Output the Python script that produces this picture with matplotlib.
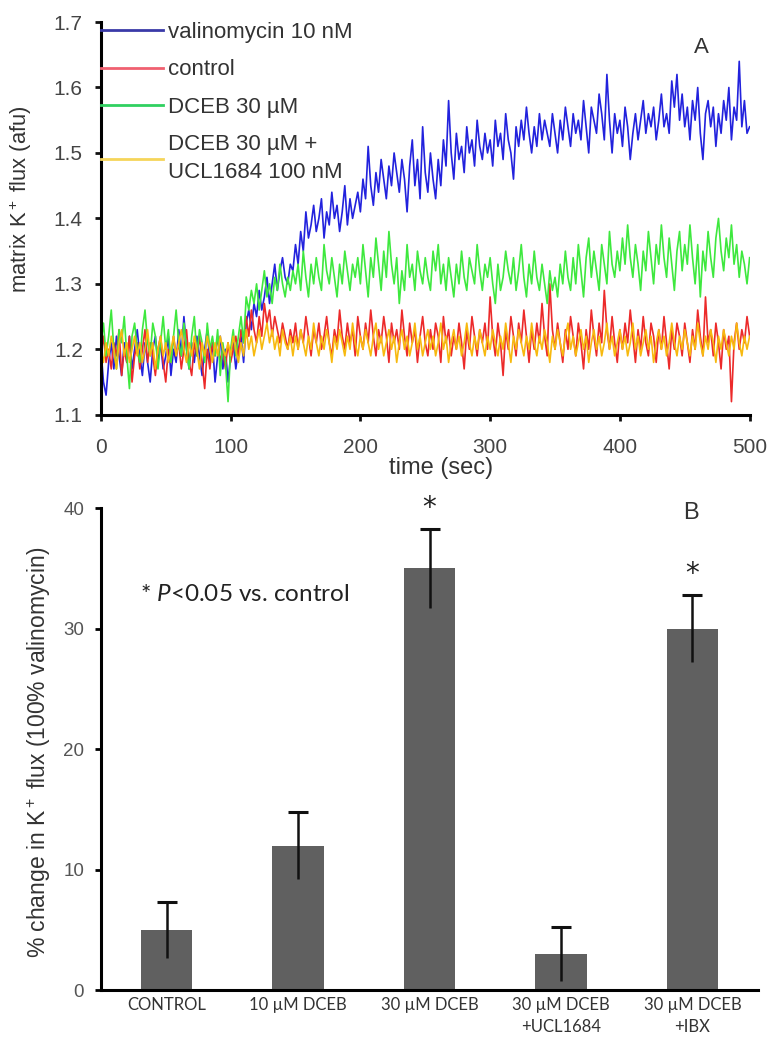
import numpy as np
import matplotlib
matplotlib.use("Agg")
import matplotlib.pyplot as plt
from matplotlib.lines import Line2D

plt.rcParams['font.family'] = ['Liberation Sans', 'DejaVu Sans']
plt.rcParams['mathtext.default'] = 'regular'
plt.rcParams['mathtext.fontset'] = 'custom'
plt.rcParams['mathtext.it'] = 'Lato:italic'
plt.rcParams['mathtext.rm'] = 'Lato'

# ---------------- Panel A data (sampled every 2 s, 0..500 s) ----------------
valinomycin = [
    1.20,1.15,1.13,1.18,1.21,1.17,1.22,1.19,1.16,1.21,1.18,1.22,1.17,1.20,1.23,1.19,1.16,1.21,1.18,1.15,1.20,1.22,1.18,1.21,1.17,
    1.19,1.22,1.16,1.20,1.18,1.23,1.19,1.25,1.20,1.17,1.21,1.18,1.22,1.19,1.16,1.20,1.23,1.18,1.21,1.15,1.19,1.22,1.17,1.20,1.15,
    1.19,1.21,1.17,1.20,1.22,1.18,1.24,1.26,1.23,1.27,1.25,1.29,1.26,1.28,1.31,1.27,1.30,1.33,1.29,1.32,1.34,1.31,1.30,1.33,1.32,
    1.36,1.33,1.38,1.35,1.41,1.37,1.39,1.42,1.38,1.40,1.43,1.37,1.41,1.39,1.44,1.40,1.42,1.38,1.41,1.45,1.39,1.43,1.40,1.42,1.44,
    1.41,1.46,1.43,1.51,1.45,1.42,1.47,1.44,1.49,1.46,1.43,1.48,1.45,1.50,1.47,1.44,1.49,1.46,1.41,1.48,1.52,1.45,1.49,1.43,1.54,
    1.47,1.44,1.50,1.46,1.43,1.49,1.45,1.52,1.48,1.58,1.50,1.46,1.53,1.49,1.51,1.47,1.54,1.50,1.52,1.48,1.55,1.51,1.49,1.53,1.50,
    1.52,1.48,1.55,1.51,1.53,1.49,1.56,1.52,1.50,1.46,1.54,1.51,1.55,1.52,1.57,1.53,1.50,1.54,1.51,1.56,1.52,1.55,1.53,1.51,1.56,
    1.53,1.50,1.55,1.52,1.57,1.54,1.51,1.56,1.53,1.55,1.52,1.58,1.54,1.50,1.57,1.55,1.53,1.59,1.56,1.52,1.62,1.55,1.50,1.56,1.53,
    1.55,1.51,1.57,1.54,1.49,1.53,1.56,1.52,1.55,1.58,1.53,1.56,1.54,1.57,1.52,1.55,1.59,1.54,1.56,1.53,1.61,1.57,1.62,1.55,1.59,
    1.54,1.57,1.52,1.58,1.55,1.60,1.53,1.49,1.56,1.58,1.54,1.57,1.51,1.56,1.53,1.58,1.55,1.60,1.52,1.57,1.55,1.64,1.54,1.58,1.53,
    1.54]
control = [
    1.19,1.22,1.18,1.20,1.17,1.21,1.19,1.23,1.16,1.20,1.18,1.22,1.15,1.19,1.21,1.17,1.20,1.23,1.18,1.21,1.19,1.16,1.20,1.22,1.18,
    1.15,1.20,1.18,1.22,1.19,1.21,1.17,1.20,1.23,1.18,1.16,1.21,1.19,1.22,1.18,1.14,1.20,1.17,1.21,1.19,1.22,1.18,1.20,1.17,1.21,
    1.18,1.20,1.22,1.19,1.23,1.21,1.25,1.22,1.26,1.23,1.21,1.25,1.22,1.27,1.24,1.26,1.22,1.25,1.23,1.21,1.24,1.22,1.20,1.23,1.21,
    1.24,1.20,1.23,1.21,1.25,1.22,1.19,1.23,1.21,1.24,1.20,1.22,1.25,1.21,1.19,1.23,1.21,1.26,1.22,1.20,1.24,1.21,1.23,1.19,1.25,
    1.22,1.20,1.24,1.21,1.26,1.22,1.19,1.23,1.21,1.25,1.22,1.18,1.24,1.21,1.23,1.20,1.26,1.22,1.19,1.24,1.21,1.23,1.18,1.22,1.25,
    1.21,1.19,1.23,1.20,1.24,1.22,1.18,1.25,1.21,1.23,1.19,1.22,1.20,1.24,1.21,1.17,1.23,1.20,1.25,1.22,1.19,1.23,1.21,1.24,1.20,
    1.28,1.22,1.19,1.24,1.21,1.16,1.23,1.20,1.25,1.22,1.19,1.24,1.21,1.26,1.22,1.18,1.23,1.20,1.24,1.21,1.27,1.22,1.19,1.30,1.23,
    1.20,1.24,1.21,1.18,1.23,1.20,1.25,1.22,1.19,1.24,1.21,1.17,1.23,1.20,1.26,1.22,1.19,1.24,1.21,1.29,1.23,1.20,1.25,1.21,1.18,
    1.23,1.20,1.24,1.21,1.26,1.22,1.18,1.23,1.20,1.25,1.21,1.19,1.24,1.22,1.18,1.23,1.20,1.25,1.21,1.17,1.23,1.20,1.24,1.22,1.19,
    1.24,1.21,1.18,1.23,1.20,1.26,1.22,1.19,1.28,1.21,1.23,1.19,1.24,1.21,1.17,1.23,1.20,1.22,1.12,1.21,1.24,1.20,1.23,1.21,1.25,
    1.22]
dceb30 = [
    1.21,1.24,1.19,1.22,1.26,1.20,1.17,1.23,1.21,1.25,1.19,1.14,1.22,1.24,1.20,1.18,1.23,1.26,1.21,1.19,1.24,1.22,1.17,1.21,1.25,
    1.20,1.23,1.18,1.22,1.26,1.21,1.19,1.24,1.20,1.17,1.22,1.25,1.19,1.23,1.21,1.18,1.24,1.20,1.22,1.19,1.23,1.16,1.21,1.18,1.12,
    1.20,1.23,1.19,1.22,1.25,1.21,1.28,1.26,1.29,1.27,1.30,1.26,1.29,1.32,1.28,1.30,1.27,1.31,1.29,1.33,1.30,1.28,1.31,1.29,1.32,
    1.30,1.33,1.29,1.35,1.31,1.28,1.33,1.30,1.34,1.31,1.29,1.36,1.32,1.30,1.34,1.31,1.28,1.33,1.30,1.35,1.32,1.29,1.33,1.31,1.34,
    1.30,1.36,1.32,1.28,1.34,1.31,1.37,1.33,1.29,1.35,1.31,1.38,1.33,1.30,1.34,1.27,1.32,1.29,1.36,1.31,1.33,1.29,1.35,1.32,1.30,
    1.34,1.31,1.29,1.35,1.32,1.36,1.30,1.33,1.29,1.34,1.31,1.28,1.33,1.30,1.35,1.31,1.29,1.34,1.32,1.30,1.36,1.32,1.29,1.33,1.31,
    1.34,1.30,1.27,1.33,1.29,1.31,1.35,1.32,1.30,1.34,1.29,1.32,1.36,1.31,1.28,1.33,1.30,1.35,1.31,1.29,1.33,1.30,1.27,1.32,1.29,
    1.31,1.28,1.33,1.30,1.35,1.31,1.29,1.34,1.30,1.36,1.32,1.28,1.34,1.37,1.31,1.35,1.32,1.29,1.36,1.33,1.30,1.38,1.33,1.31,1.35,
    1.32,1.37,1.33,1.39,1.34,1.31,1.36,1.33,1.29,1.35,1.32,1.38,1.34,1.30,1.36,1.33,1.39,1.34,1.31,1.37,1.33,1.29,1.35,1.38,1.32,
    1.36,1.33,1.39,1.34,1.30,1.36,1.28,1.35,1.32,1.38,1.34,1.31,1.37,1.40,1.35,1.32,1.37,1.34,1.39,1.33,1.36,1.31,1.35,1.33,1.30,
    1.34]
dceb30_ucl = [
    1.20,1.18,1.21,1.19,1.22,1.20,1.17,1.21,1.23,1.19,1.21,1.18,1.20,1.22,1.19,1.21,1.18,1.20,1.23,1.19,1.21,1.17,1.20,1.22,1.19,
    1.21,1.18,1.20,1.22,1.19,1.21,1.23,1.20,1.18,1.21,1.19,1.22,1.20,1.17,1.21,1.19,1.22,1.20,1.18,1.21,1.19,1.22,1.20,1.19,1.21,
    1.19,1.22,1.20,1.18,1.21,1.19,1.23,1.20,1.22,1.19,1.21,1.23,1.20,1.22,1.24,1.21,1.23,1.20,1.22,1.19,1.23,1.21,1.20,1.22,1.19,
    1.22,1.20,1.23,1.21,1.19,1.22,1.20,1.24,1.21,1.19,1.22,1.20,1.23,1.21,1.18,1.22,1.20,1.23,1.21,1.19,1.22,1.20,1.24,1.21,1.19,
    1.22,1.20,1.23,1.21,1.19,1.22,1.24,1.20,1.22,1.19,1.21,1.23,1.20,1.22,1.18,1.21,1.23,1.20,1.22,1.19,1.21,1.24,1.20,1.22,1.19,
    1.21,1.23,1.20,1.22,1.19,1.21,1.24,1.20,1.22,1.18,1.21,1.23,1.20,1.22,1.19,1.21,1.24,1.21,1.19,1.22,1.20,1.23,1.21,1.19,1.22,
    1.20,1.23,1.21,1.19,1.22,1.20,1.24,1.21,1.18,1.22,1.20,1.23,1.21,1.19,1.22,1.20,1.24,1.21,1.19,1.22,1.20,1.23,1.21,1.18,1.22,
    1.20,1.23,1.21,1.19,1.22,1.24,1.20,1.22,1.19,1.21,1.23,1.20,1.22,1.18,1.21,1.23,1.20,1.22,1.19,1.21,1.24,1.20,1.22,1.19,1.21,
    1.23,1.20,1.22,1.19,1.21,1.24,1.20,1.22,1.19,1.21,1.23,1.20,1.22,1.18,1.21,1.23,1.20,1.22,1.19,1.21,1.24,1.21,1.19,1.22,1.20,
    1.23,1.21,1.19,1.22,1.20,1.24,1.21,1.19,1.22,1.20,1.23,1.21,1.18,1.22,1.20,1.23,1.21,1.19,1.22,1.20,1.24,1.21,1.19,1.22,1.20,
    1.22]

series_labels = ["valinomycin 10 nM", "control", "DCEB 30 \u00b5M", "DCEB 30 \u00b5M +\nUCL1684 100 nM"]
series_colors = ["#2222dd", "#ec2a2a", "#3ee83e", "#f7b90f"]
legend_colors = ["#3a3aa8", "#f06070", "#30d060", "#f5d55a"]

# ---------------- Panel B data ----------------
categories = ["CONTROL", "10 \u00b5M DCEB", "30 \u00b5M DCEB", "30 \u00b5M DCEB\n+UCL1684", "30 \u00b5M DCEB\n+IBX"]
pct_change = [5.0, 12.0, 35.0, 3.0, 30.0]
pct_err = [2.3, 2.8, 3.3, 2.2, 2.8]
significant = [False, False, True, False, True]

fig = plt.figure(figsize=(7.76, 10.5), dpi=100)

# ---------------- Panel A ----------------
axA = fig.add_axes([0.130, 0.605, 0.836, 0.374])
all_series = [valinomycin, control, dceb30, dceb30_ucl]
for vals, col in zip(all_series, series_colors):
    v = np.asarray(vals)
    t = np.linspace(0, 500, len(v))
    axA.plot(t, v, color=col, lw=1.2)
axA.set_xlim(0, 500)
axA.set_ylim(1.1, 1.7)
axA.set_xticks([0, 100, 200, 300, 400, 500])
axA.set_yticks([1.1, 1.2, 1.3, 1.4, 1.5, 1.6, 1.7])
axA.yaxis.set_major_formatter(matplotlib.ticker.FormatStrFormatter('%.1f'))
for s in ["top", "right"]:
    axA.spines[s].set_visible(False)
for s in ["left", "bottom"]:
    axA.spines[s].set_linewidth(2.2)
axA.tick_params(axis='both', direction='out', length=4, width=2, labelsize=15, colors='#111111', labelcolor='#444444')
axA.tick_params(axis='x', pad=13)
axA.tick_params(axis='y', pad=9)
axA.set_xlabel("time (sec)", fontsize=17, color='#333333')
axA.xaxis.set_label_coords(0.524, -0.108)
axA.set_ylabel("matrix K$^+$ flux (afu)", color='#333333')
axA.yaxis.label.set_fontsize(15.8)
axA.yaxis.set_label_coords(-0.103, 0.55)

handles = [Line2D([], [], color=c, lw=2) for c in legend_colors]
leg = axA.legend(handles, series_labels, loc='upper left', bbox_to_anchor=(0.0, 1.0), frameon=False,
                 fontsize=16, handlelength=2.8, handletextpad=0.2, labelspacing=0.74,
                 borderaxespad=0, borderpad=0.0)
for txt in leg.get_texts():
    txt.set_color('#333333')
    txt.set_linespacing(1.4)
axA.text(0.925, 0.935, "A", transform=axA.transAxes, fontsize=16, color='#333333', ha='center', va='center')

# ---------------- Panel B ----------------
axB = fig.add_axes([0.130, 0.057, 0.847, 0.459])
x = np.arange(len(categories))
vals = np.asarray(pct_change)
errs = np.asarray(pct_err)
axB.bar(x, vals, width=0.39, color='#606060', zorder=2)
axB.errorbar(x, vals, yerr=errs, fmt='none', ecolor='#111111', elinewidth=1.8, capsize=0, zorder=3)
axB.plot(x, vals + errs, linestyle='none', marker='_', markersize=15, mew=2.2, color='#111111', zorder=3)
for xi, v, e, sig in zip(x, vals, errs, significant):
    if sig:
        axB.text(xi, v + e + 1.75, "*", ha='center', va='center', fontsize=20, color='#222222',
                 family=['DejaVu Sans'])
axB.set_xlim(-0.5, len(categories) - 0.5)
axB.set_ylim(0, 40)
axB.set_yticks([0, 10, 20, 30, 40])
axB.set_xticks(x)
axB.set_xticklabels(categories, fontsize=12, color='#333333', family=['Lato', 'DejaVu Sans'])
for lbl in axB.get_xticklabels():
    lbl.set_linespacing(1.45)
axB.tick_params(axis='x', length=0, pad=5)
axB.tick_params(axis='y', direction='out', length=4, width=2, labelsize=13.5, labelcolor='#555555', pad=8)
for s in ["top", "right"]:
    axB.spines[s].set_visible(False)
for s in ["left", "bottom"]:
    axB.spines[s].set_linewidth(2.2)
axB.set_ylabel("% change in K$^+$ flux (100% valinomycin)", fontsize=16.5, color='#333333')
axB.yaxis.set_label_coords(-0.073, 0.494)
axB.text(0.06, 0.82, "* $\\mathit{P}$<0.05 vs. control", transform=axB.transAxes, fontsize=17.5,
         color='#222222', family=['Lato', 'DejaVu Sans'], va='center')
axB.text(0.898, 0.99, "B", transform=axB.transAxes, fontsize=17, color='#333333', ha='center', va='center')

fig.savefig("out.png", dpi=100)
